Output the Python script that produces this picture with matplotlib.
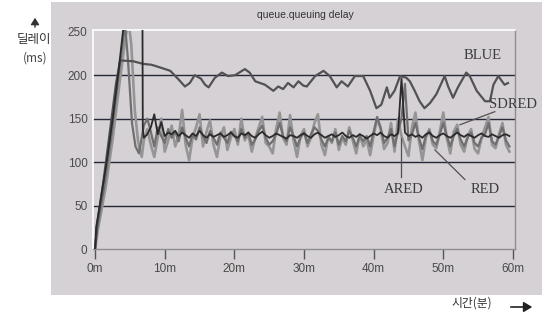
import numpy as np
import matplotlib
matplotlib.use("Agg")
import matplotlib.pyplot as plt
from matplotlib.patches import Rectangle, FancyArrowPatch

# ---------------- data ----------------
x_ticks = [0, 10, 20, 30, 40, 50, 60]
x_tick_labels = ["0m", "10m", "20m", "30m", "40m", "50m", "60m"]
y_ticks = [0, 50, 100, 150, 200, 250]
grid_levels = [50, 100, 150, 200]

blue_t = [0, 0.3, 1.2, 2.2, 3.0, 3.6, 5.5, 6.9, 8.1, 9.3, 10.8, 12.0, 12.9, 13.6, 14.3,
          15.2, 15.8, 16.3, 17.2, 18.2, 19.1, 20.1, 21.5, 22.2, 23.0, 24.4, 25.6, 26.3,
          27.0, 27.7, 28.5, 29.2, 29.9, 30.4, 31.6, 32.8, 33.7, 34.7, 35.4, 36.3, 37.3,
          38.5, 39.5, 40.4, 41.1, 41.9, 42.3, 43.0, 43.8, 44.7, 45.2, 45.9, 46.6, 47.3,
          48.1, 49.0, 50.2, 50.7, 51.4, 52.1, 53.3, 53.8, 54.8, 56.0, 56.7, 57.2, 57.9,
          58.8, 59.3]
blue_v = [0, 28, 78, 140, 190, 217, 216, 213, 212, 209, 205, 195, 187, 191, 200,
          196, 189, 186, 197, 203, 199, 200, 207, 203, 193, 189, 182, 187,
          184, 191, 186, 193, 188, 187, 199, 205, 199, 186, 193, 187, 199,
          199, 182, 162, 166, 186, 174, 182, 199, 197, 193, 182, 170, 162,
          168, 178, 199, 187, 174, 186, 203, 199, 182, 170, 170, 189, 199,
          189, 191]

# start-up transients (time in minutes, delay in ms)
ared_start_t = [0, 0.15, 0.7, 1.7, 2.5, 3.3, 4.0, 4.3, 6.8, 6.85, 7.0]
ared_start_v = [0, 25, 52, 102, 148, 200, 250, 275, 275, 138, 128]
red_start_t = [0, 0.4, 1.5, 2.5, 3.5, 4.4, 4.8, 5.2, 5.7, 6.2, 6.7, 7.0]
red_start_v = [0, 22, 70, 125, 190, 245, 262, 235, 160, 122, 106, 125]
sdred_start_t = [0, 0.3, 1.3, 2.3, 3.3, 4.0, 4.3, 4.7, 5.3, 5.8, 6.3, 7.0]
sdred_start_v = [0, 24, 72, 128, 195, 240, 258, 220, 145, 118, 110, 142]

# steady-state samples every 0.5 min from 7.5 min
steady_t0 = 7.5
steady_dt = 0.5
red_v = [138, 120, 106, 128, 150, 112, 125, 142, 118, 130,
         160, 120, 102, 128, 140, 155, 118, 135, 148, 120,
         106, 130, 140, 114, 128, 138, 120, 150, 125, 132,
         112, 128, 140, 152, 122, 118, 110, 138, 157, 128,
         120, 154, 125, 106, 130, 138, 118, 128, 145, 155,
         120, 108, 130, 122, 138, 114, 128, 120, 140, 125,
         110, 132, 118, 126, 108, 130, 150, 138, 115, 122,
         145, 112, 150, 130, 118, 107, 140, 157, 125, 102,
         128, 138, 120, 116, 135, 157, 128, 110, 135, 143,
         120, 112, 130, 138, 115, 110, 128, 140, 152, 120,
         116, 132, 145, 120, 112]
sdred_v = [150, 135, 118, 140, 130, 122, 138, 128, 135, 124,
           140, 128, 118, 132, 126, 140, 130, 122, 136, 128,
           120, 134, 128, 122, 135, 130, 124, 138, 128, 134,
           120, 126, 136, 142, 128, 120, 124, 132, 145, 130,
           124, 140, 130, 118, 128, 134, 122, 132, 140, 136,
           126, 118, 128, 124, 134, 120, 130, 124, 136, 128,
           118, 130, 124, 130, 118, 135, 152, 140, 122, 128,
           138, 118, 135, 150, 190, 125, 132, 145, 128, 115,
           130, 136, 124, 120, 132, 145, 130, 118, 130, 138,
           126, 118, 128, 134, 122, 118, 128, 132, 145, 124,
           120, 130, 140, 125, 118]
ared_v = [132, 140, 155, 132, 146, 130, 134, 132, 136, 130,
          134, 131, 128, 133, 130, 136, 131, 128, 132, 129,
          131, 133, 129, 131, 134, 130, 128, 133, 131, 134,
          130, 128, 132, 135, 131, 128, 130, 133, 131, 129,
          127, 131, 130, 128, 131, 133, 130, 128, 132, 134,
          131, 128, 130, 132, 129, 131, 134, 130, 128, 131,
          129, 132, 130, 127, 130, 133, 131, 134, 130, 128,
          132, 130, 133, 196, 134, 130, 132, 129, 131, 128,
          132, 134, 130, 128, 131, 133, 130, 128, 131, 134,
          131, 129, 132, 130, 128, 131, 133, 130, 129, 132,
          130, 128, 131, 132, 130]

labels = {"BLUE": (55.6, 223), "SDRED": (60.0, 166), "ARED": (44.3, 68), "RED": (56.0, 68)}
leaders = {"SDRED": [(52.4, 143), (57.4, 158)],
           "ARED": [(44.0, 83), (44.0, 128)],
           "RED": [(48.8, 114), (53.1, 80)]}


def series(start_t, start_v, vals):
    t = list(start_t) + list(steady_t0 + steady_dt * np.arange(len(vals)))
    return np.array(t), np.array(list(start_v) + list(vals))


# ---------------- figure ----------------
W, H = 550, 318
fig = plt.figure(figsize=(W / 100, H / 100), dpi=100)
fig.patch.set_facecolor("white")

panel_col = "#d6d1d5"
panel = Rectangle((51 / W, 1 - 295 / H), 491 / W, 293 / H,
                  transform=fig.transFigure, facecolor=panel_col,
                  edgecolor="none", zorder=-10)
fig.add_artist(panel)

ax = fig.add_axes([93 / W, 1 - 249 / H, 422 / W, 219 / H])
ax.set_zorder(5)
ax.set_facecolor(panel_col)
ax.set_xlim(-0.3, 60.3)
ax.set_ylim(0, 252)

for lv in grid_levels:
    ax.axhline(lv, color="#262838", lw=1.0, zorder=1)

t, v = series(red_start_t, red_start_v, red_v)
ax.plot(t, v, color="#959595", lw=1.9, zorder=2)
t, v = series(sdred_start_t, sdred_start_v, sdred_v)
ax.plot(t, v, color="#707070", lw=1.6, zorder=3)
ax.plot(blue_t, blue_v, color="#525252", lw=1.6, zorder=4)
t, v = series(ared_start_t, ared_start_v, ared_v)
ax.plot(t, v, color="#2a2a2a", lw=1.3, zorder=5)

for name, pts in leaders.items():
    (x0, y0), (x1, y1) = pts
    ax.plot([x0, x1], [y0, y1], color="#505050", lw=0.9, zorder=6)
for name, (lx, ly) in labels.items():
    ax.text(lx, ly, name, family="Liberation Serif", fontsize=10.5, color="#3c3c3c",
            ha="center", va="center", clip_on=False, zorder=7)

for side in ["left", "top"]:
    ax.spines[side].set_color("white")
    ax.spines[side].set_linewidth(1.2)
for side in ["right", "bottom"]:
    ax.spines[side].set_color("#8e8e8e")
    ax.spines[side].set_linewidth(1.0)

ax.set_xticks(x_ticks)
ax.set_xticklabels(x_tick_labels)
ax.set_yticks(y_ticks)
ax.set_yticklabels([str(y) for y in y_ticks])
ax.tick_params(axis="x", direction="out", length=7, width=1, color="#555555",
               pad=3, labelsize=8.5, labelcolor="#4a4a4a")
ax.tick_params(axis="y", length=0, pad=4, labelsize=8.5, labelcolor="#4a4a4a")
for lab in ax.get_xticklabels() + ax.get_yticklabels():
    lab.set_family("Liberation Sans")

fig.text(305 / W, 1 - 15 / H, "queue.queuing delay", family="Liberation Sans",
         fontsize=7.5, color="#333333", ha="center", va="center")

kfont = ["Noto Sans CJK KR", "DejaVu Sans"]
fig.text(34 / W, 1 - 40 / H, "딜레이", family=kfont, fontsize=9, color="#333333",
         ha="center", va="center")
fig.text(35 / W, 1 - 58 / H, "(ms)", family=kfont, fontsize=8.5, color="#444444",
         ha="center", va="center")
fig.text(472 / W, 1 - 303 / H, "시간(분)", family=kfont, fontsize=8.5, color="#333333",
         ha="center", va="center")

fig.add_artist(FancyArrowPatch(
    (35 / W, 1 - 30 / H), (35 / W, 1 - 15 / H), transform=fig.transFigure,
    arrowstyle="-|>,head_length=4,head_width=2.5", color="#333333", lw=1.0))
fig.add_artist(FancyArrowPatch(
    (508 / W, 1 - 307 / H), (535 / W, 1 - 307 / H), transform=fig.transFigure,
    arrowstyle="-|>,head_length=5,head_width=3", color="#222222", lw=1.2))

fig.savefig("out.png", dpi=100, facecolor="white")
